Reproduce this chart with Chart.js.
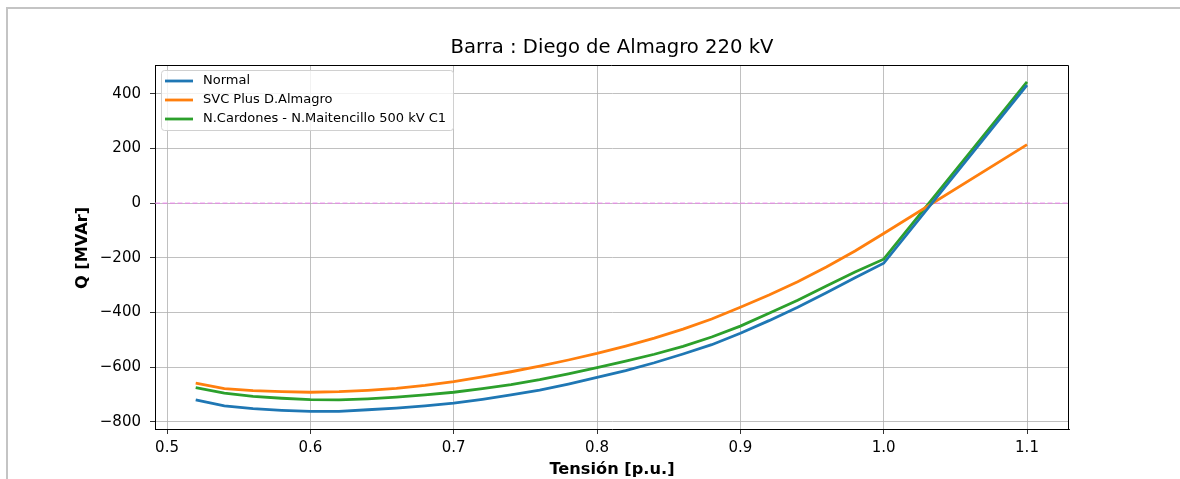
<!DOCTYPE html>
<html>
<head>
<meta charset="utf-8">
<script src="https://cdn.jsdelivr.net/npm/chart.js@4"></script>
<style>
  html, body { margin: 0; padding: 0; background: #fff; }
  #wrap { position: relative; width: 1180px; height: 479px; overflow: hidden; }
  #frame { position: absolute; left: 6px; top: 7px; width: 1200px; height: 500px;
           border-top: 2px solid #c4c4c4; border-left: 2px solid #c4c4c4; }
  canvas { position: absolute; left: 0; top: 0; }
</style>
</head>
<body>
<div id="wrap">
  <div id="frame"></div>
  <canvas id="c" width="1180" height="479"></canvas>
</div>
<script>
const chartTitle = 'Barra : Diego de Almagro 220 kV';
const xLabel = 'Tensión [p.u.]';
const yLabel = 'Q [MVAr]';
const seriesNames = ['Normal', 'SVC Plus D.Almagro', 'N.Cardones - N.Maitencillo 500 kV C1'];
const tension = [0.52,0.54,0.56,0.58,0.60,0.62,0.64,0.66,0.68,0.70,0.72,0.74,0.76,0.78,0.80,0.82,0.84,0.86,0.88,0.90,0.92,0.94,0.96,0.98,1.00,1.10];
const qNormal = [-720,-742,-752,-758,-762,-762,-756,-750,-742,-732,-718,-702,-684,-662,-638,-613,-584,-552,-518,-476,-430,-381,-328,-273,-220,432];
const qSvc = [-659,-679,-686,-690,-692,-690,-685,-678,-667,-653,-636,-617,-596,-574,-550,-523,-494,-461,-424,-381,-336,-288,-234,-175,-111,214];
const qCardones = [-675,-695,-707,-714,-719,-720,-716,-710,-702,-692,-679,-664,-646,-625,-602,-578,-553,-524,-490,-450,-403,-355,-303,-252,-205,444];
const xTicks = [0.5,0.6,0.7,0.8,0.9,1.0,1.1];
const yTicks = [-800,-600,-400,-200,0,200,400];
const colors = ['#1f77b4', '#ff7f0e', '#2ca02c'];

const FONT = "'DejaVu Sans', sans-serif";
const toXY = arr => arr.map((v, i) => ({x: tension[i], y: v}));
const seriesData = [qNormal, qSvc, qCardones];

const overlay = {
  id: 'overlay',
  beforeDatasetsDraw(chart) {
    const {ctx, chartArea: a, scales} = chart;
    const y0 = scales.y.getPixelForValue(0);
    ctx.save();
    ctx.strokeStyle = '#ee82ee';
    ctx.lineWidth = 1;
    ctx.setLineDash([5, 2.5]);
    ctx.beginPath();
    ctx.moveTo(a.left, y0);
    ctx.lineTo(a.right, y0);
    ctx.stroke();
    ctx.restore();
  },
  afterDraw(chart) {
    const {ctx, chartArea: a} = chart;
    ctx.save();
    // top and right spines
    ctx.strokeStyle = '#000';
    ctx.lineWidth = 1;
    ctx.beginPath();
    ctx.moveTo(a.left, a.top + 0.5);
    ctx.lineTo(a.right - 0.5, a.top + 0.5);
    ctx.lineTo(a.right - 0.5, a.bottom);
    ctx.stroke();
    // title
    ctx.fillStyle = '#000';
    ctx.textAlign = 'center';
    ctx.textBaseline = 'middle';
    ctx.font = '19.6px ' + FONT;
    ctx.fillText(chartTitle, (a.left + a.right) / 2, 48);
    // axis labels
    ctx.font = 'bold 16.2px ' + FONT;
    ctx.fillText(xLabel, (a.left + a.right) / 2, 470);
    ctx.save();
    ctx.translate(83, (a.top + a.bottom) / 2 + 1);
    ctx.rotate(-Math.PI / 2);
    ctx.fillText(yLabel, 0, 0);
    ctx.restore();
    // legend
    const lx = a.left + 6, ly = a.top + 5, lw = 292, lh = 60;
    ctx.fillStyle = 'rgba(255,255,255,0.8)';
    ctx.strokeStyle = '#d0d0d0';
    ctx.lineWidth = 1;
    ctx.beginPath();
    ctx.roundRect(lx + 0.5, ly + 0.5, lw, lh, 3);
    ctx.fill();
    ctx.stroke();
    ctx.font = '13px ' + FONT;
    ctx.textAlign = 'left';
    ctx.textBaseline = 'middle';
    chart.data.datasets.forEach((ds, i) => {
      const yy = ly + 11 + i * 19;
      ctx.strokeStyle = ds.borderColor;
      ctx.lineWidth = 2.8;
      ctx.beginPath();
      ctx.moveTo(lx + 4, yy);
      ctx.lineTo(lx + 32, yy);
      ctx.stroke();
      ctx.fillStyle = '#000';
      ctx.fillText(ds.label, lx + 42, yy);
    });
    ctx.restore();
  }
};

new Chart(document.getElementById('c'), {
  type: 'line',
  data: {
    datasets: seriesNames.map((n, i) => ({
      label: n,
      data: toXY(seriesData[i]),
      borderColor: colors[i],
      backgroundColor: colors[i],
      borderWidth: 2.8,
      pointRadius: 0,
      tension: 0,
      fill: false
    }))
  },
  options: {
    responsive: false,
    animation: false,
    devicePixelRatio: 1,
    layout: { padding: { left: 0, top: 65, right: 111, bottom: 0 } },
    plugins: { legend: { display: false }, title: { display: false }, tooltip: { enabled: false } },
    scales: {
      x: {
        type: 'linear',
        min: 0.4916, max: 1.1293,
        afterBuildTicks: s => { s.ticks = xTicks.map(v => ({value: v})); },
        afterFit: s => { s.height = 50; },
        ticks: { font: { family: FONT, size: 15 }, color: '#000', padding: 5, maxRotation: 0,
                 callback: v => v.toFixed(1) },
        grid: { color: '#b0b0b0', lineWidth: 0.8, tickColor: '#000', tickLength: 5 },
        border: { display: true, color: '#000', width: 1 }
      },
      y: {
        type: 'linear',
        min: -826.5, max: 505.5,
        afterBuildTicks: s => { s.ticks = yTicks.map(v => ({value: v})); },
        afterFit: s => { s.width = 155; },
        ticks: { font: { family: FONT, size: 15 }, color: '#000', padding: 9,
                 callback: v => (v < 0 ? '\u2212' + Math.abs(v) : String(v)) },
        grid: { color: '#b0b0b0', lineWidth: 0.8, tickColor: '#000', tickLength: 5 },
        border: { display: true, color: '#000', width: 1 }
      }
    }
  },
  plugins: [overlay]
});
</script>
</body>
</html>
